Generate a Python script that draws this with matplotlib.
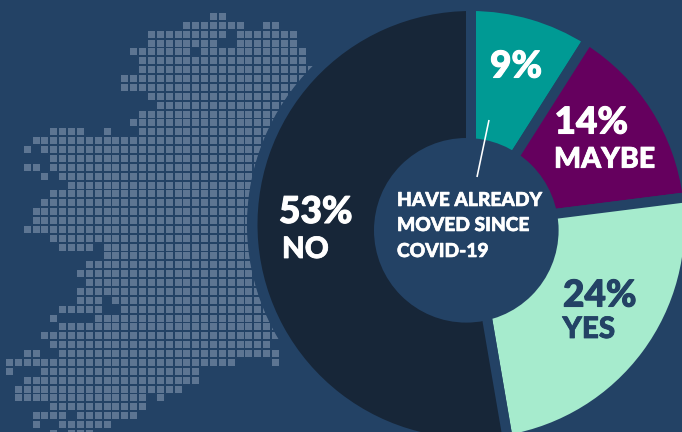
import matplotlib
matplotlib.use("Agg")
import matplotlib.pyplot as plt
import matplotlib.patheffects as pe
from matplotlib.patches import Wedge, Circle, Rectangle

plt.rcParams['font.family'] = ['Lato', 'DejaVu Sans']

# ---- data ----
categories = ["Have already moved", "Maybe", "Yes", "No"]
shares = [9, 14, 24.3, 52.7]
share_labels = ["9%", "14%", "24%", "53%"]
colors = ["#009a94", "#65005e", "#a6ebcd", "#172638"]
center_label = ["HAVE ALREADY", "MOVED SINCE", "COVID-19"]

# Ireland dot grid: one list per grid row of (first column, last column) runs
E = 36
map_rows = [
    [(23, 24)],
    [(20, 26), (29, 30)],
    [(16, 24), (26, 32)],
    [(16, 23), (26, 32)],
    [(14, 20), (22, 33)],
    [(15, 33)],
    [(15, 34)],
    [(13, E)],
    [(13, E)],
    [(16, E)],
    [(17, E)],
    [(15, E)],
    [(14, E)],
    [(5, 8), (11, 11), (15, E)],
    [(3, E)],
    [(2, 2), (4, E)],
    [(5, E)],
    [(2, 3), (5, E)],
    [(4, 4), (6, E)],
    [(7, E)],
    [(5, E)],
    [(4, E)],
    [(3, E)],
    [(3, E)],
    [(2, E)],
    [(5, E)],
    [(6, 9), (11, E)],
    [(11, E)],
    [(9, E)],
    [(8, E)],
    [(9, E)],
    [(8, E)],
    [(8, 10), (12, E)],
    [(6, 10), (13, E)],
    [(5, 5), (10, E)],
    [(6, E)],
    [(4, E)],
    [(5, 29)],
    [(2, 3), (6, 30)],
    [(0, 25), (30, 30)],
    [(0, 0), (4, 21)],
    [(2, 21)],
    [(1, 19)],
    [(1, 15), (17, 17)],
    [(5, 15)],
    [(3, 6), (8, 14)],
    [(3, 3), (6, 11)],
    [(5, 5), (7, 9)],
]

# ---- style ----
BG = "#234265"
SQ = "#5d7592"
W = 682
H = 432
PX = 72 / 100

fig = plt.figure(figsize=(W / 100, H / 100), dpi=100, facecolor=BG)
ax = fig.add_axes([0, 0, 1, 1])
ax.set_xlim(0, W)
ax.set_ylim(H, 0)
ax.axis("off")

# map: each square is placed on whole pixels
pitch = 8.87
size = 7
for r, runs in enumerate(map_rows):
    for a, b in runs:
        for c in range(a, b + 1):
            ax.add_patch(Rectangle((round(6 + pitch * c), round(13 + pitch * r)), size, size,
                                   fc=SQ, ec="none", zorder=1, antialiased=False))

# pie
cx, cy = 471, 224.5
R = 213.5
gap = 10
ax.add_patch(Circle((cx, cy), R + gap + 0.5, fc=BG, ec="none", zorder=2))
cum = 0
for v, col in zip(shares, colors):
    ax.add_patch(Wedge((cx, cy), R + gap / 2, -90 + cum * 3.6, -90 + (cum + v) * 3.6,
                       fc=col, ec=BG, lw=gap * PX, zorder=3))
    cum += v

# centre hole
ax.add_patch(Circle((466.3, 230.3), 92.3, fc=BG, ec="none", zorder=4))
ax.plot([489, 477], [120, 177], color="white", lw=1.6 * PX, zorder=5, solid_capstyle="butt")


def label(x, y, s, px, color="white", stroke=0.8):
    ax.text(x, y, s, fontsize=px * PX, color=color, fontweight="black",
            ha="left", va="baseline", zorder=6,
            path_effects=[pe.withStroke(linewidth=stroke * PX, foreground=color)])


label(490, 77.5, share_labels[0], 37, stroke=1.1)
label(554.5, 133.5, share_labels[1], 37, stroke=1.1)
label(554, 167.7, "MAYBE", 28.5)
label(563, 306.5, share_labels[2], 37, BG, stroke=1.1)
label(562.5, 338, "YES", 29.5, BG)
label(279, 223, share_labels[3], 37, stroke=1.1)
label(282, 258, "NO", 29.5)
for y, s in zip([206, 231, 257], center_label):
    label(397, y, s, 19.2, stroke=0.6)

fig.savefig("out.png", dpi=100, facecolor=BG)
